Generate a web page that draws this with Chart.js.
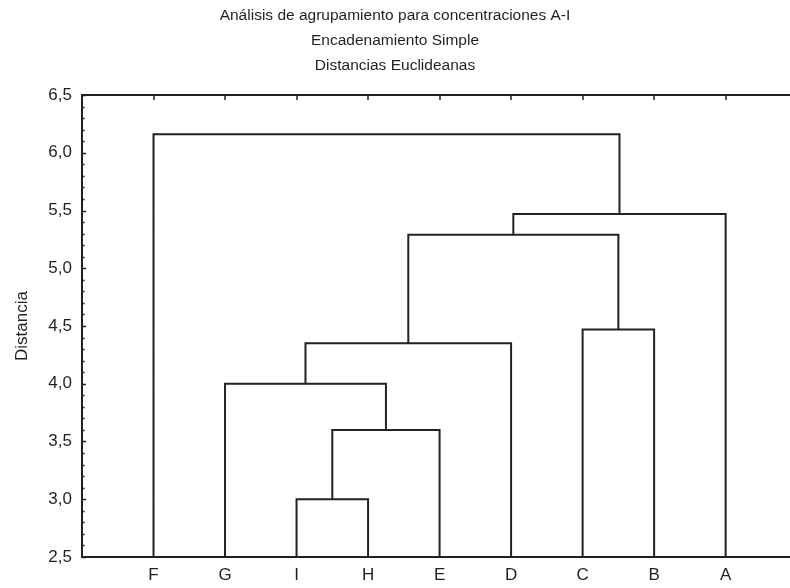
<!DOCTYPE html>
<html>
<head>
<meta charset="utf-8">
<script src="https://cdn.jsdelivr.net/npm/chart.js@4/dist/chart.umd.min.js"></script>
<style>
  html, body { margin: 0; padding: 0; background: #fff; overflow: hidden; }
  #wrap { width: 790px; height: 588px; }
</style>
</head>
<body>
<div id="wrap"><canvas id="myChart" width="790" height="588"></canvas></div>
<script>
// leaves in the order they are drawn, left to right
const leafLabels = ['F', 'G', 'I', 'H', 'E', 'D', 'C', 'B', 'A'];
// merge k joins mergeLeft[k] and mergeRight[k] (leaf or earlier merge "Mn") at mergeHeight[k]
const mergeLeft = ['I', 'M1', 'G', 'M3', 'C', 'M4', 'M6', 'F'];
const mergeRight = ['H', 'E', 'M2', 'D', 'B', 'M5', 'A', 'M7'];
const mergeHeight = [3.0, 3.6, 4.0, 4.35, 4.47, 5.29, 5.47, 6.16];
const yTicks = [2.5, 3.0, 3.5, 4.0, 4.5, 5.0, 5.5, 6.0, 6.5];

const yMin = 2.5, yMax = 6.5;
const ink = '#231f20';
const fontFam = 'Liberation Sans, Arial, sans-serif';

// build the link polylines (U shapes) from the merges
function nodeInfo(name, nodes) {
	if (nodes[name]) return nodes[name];
	return { x: leafLabels.indexOf(name) + 1, h: yMin };
}
const nodes = {};
const linkPoints = [];
for (let k = 0; k < mergeHeight.length; k++) {
	const a = nodeInfo(mergeLeft[k], nodes);
	const b = nodeInfo(mergeRight[k], nodes);
	const h = mergeHeight[k];
	linkPoints.push({x: a.x, y: a.h}, {x: a.x, y: h}, {x: b.x, y: h}, {x: b.x, y: b.h});
	linkPoints.push({x: b.x, y: null});
	nodes['M' + (k + 1)] = { x: (a.x + b.x) / 2, h: h };
}

const frameTicks = {
	id: 'frameTicks',
	afterDraw(chart) {
		const ctx = chart.ctx;
		const area = chart.chartArea;
		const xs = chart.scales.x, ys = chart.scales.y;
		ctx.save();
		ctx.strokeStyle = ink;
		ctx.lineWidth = 2;
		ctx.beginPath();
		ctx.moveTo(area.left - 1, area.top);
		ctx.lineTo(area.right, area.top);
		ctx.stroke();
		ctx.lineWidth = 1.5;
		ctx.beginPath();
		leafLabels.forEach((l, i) => {
			const px = Math.round(xs.getPixelForValue(i + 1));
			ctx.moveTo(px, area.top);
			ctx.lineTo(px, area.top + 5);
		});
		for (let v = yMin; v <= yMax + 0.001; v += 0.1) {
			const py = Math.round(ys.getPixelForValue(v)) + 0.5;
			const major = Math.abs(v * 2 - Math.round(v * 2)) < 0.01;
			ctx.moveTo(area.left, py);
			ctx.lineTo(area.left + (major ? 4 : 2.5), py);
		}
		ctx.stroke();
		ctx.restore();
	}
};

new Chart(document.getElementById('myChart'), {
	type: 'line',
	data: {
		datasets: [{
			data: linkPoints,
			borderColor: '#222',
			borderWidth: 2,
			pointRadius: 0,
			spanGaps: false,
			tension: 0
		}]
	},
	options: {
		responsive: false,
		animation: false,
		layout: { padding: 0 },
		plugins: {
			legend: { display: false },
			tooltip: { enabled: false },
			title: {
				display: true,
				text: ['Análisis de agrupamiento para concentraciones A-I', 'Encadenamiento Simple', 'Distancias Euclideanas'],
				color: ink,
				font: { family: fontFam, size: 15.5, weight: 'normal', lineHeight: '25px' },
				padding: { top: 3, bottom: 17 }
			}
		},
		scales: {
			x: {
				type: 'linear',
				min: 0,
				max: 9.9,
				grid: { display: false, drawTicks: false },
				border: { display: true, color: ink, width: 2 },
				afterBuildTicks: (scale) => {
					scale.ticks = leafLabels.map((l, i) => ({ value: i + 1 }));
				},
				afterFit: (scale) => { scale.height = 31; },
				ticks: {
					padding: 8,
					color: ink,
					font: { family: fontFam, size: 17 },
					callback: (v) => leafLabels[v - 1]
				}
			},
			y: {
				min: yMin,
				max: yMax,
				grid: { display: false, drawTicks: false },
				border: { display: true, color: ink, width: 2 },
				afterBuildTicks: (scale) => {
					scale.ticks = yTicks.map(v => ({ value: v }));
				},
				afterFit: (scale) => { scale.width = 82; },
				ticks: {
					padding: 10,
					color: ink,
					font: { family: fontFam, size: 17 },
					callback: (v) => v.toFixed(1).replace('.', ',')
				},
				title: {
					display: true,
					text: 'Distancia',
					color: ink,
					font: { family: fontFam, size: 17 },
					padding: { top: 12, bottom: 0 }
				}
			}
		}
	},
	plugins: [frameTicks]
});
</script>
</body>
</html>
